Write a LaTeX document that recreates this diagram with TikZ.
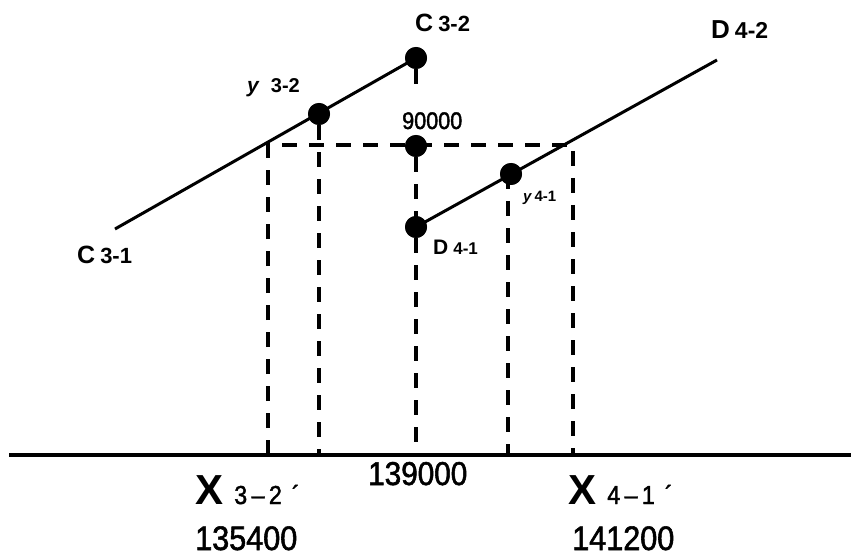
\documentclass[tikz,border=0pt]{standalone}
\usepackage{fontspec}
\setmainfont{Liberation Sans}
\newfontfamily\narrowfont[FakeStretch=0.9,FakeBold=1.6]{Liberation Sans}
\newcommand{\ptLbl}[4]{{\fontsize{#1}{#1}\selectfont #2}\hspace{5pt}{\fontsize{#3}{#3}\selectfont #4}}
\newcommand{\ptNum}[2]{{\narrowfont\fontsize{#1}{#1}\selectfont #2}}

\begin{document}
\begin{tikzpicture}[x=1pt,y=-1pt,
  dot/.style={circle, fill, inner sep=0pt, minimum size=22pt},
  seg/.style={line width=3pt},
  guide/.style={line width=3.5pt, dash pattern=on 15pt off 12pt},
  lbl/.style={anchor=base west, inner sep=0pt, font=\bfseries},
  num/.style={anchor=base west, inner sep=0pt}]
\useasboundingbox (0,0) rectangle (851,556);
% axis
\coordinate (axl) at (9,455);
\coordinate (axr) at (851,455);
\draw[line width=4pt] (axl) -- (axr);
% points
\coordinate (c31) at (115,229);
\node[dot] (c32) at (416,58) {};
\node[dot] (y32) at (319,114) {};
\node[dot] (p90) at (416,146) {};
\node[dot] (d41) at (416,227) {};
\node[dot] (y41) at (511,174) {};
\coordinate (d42) at (717,60);
\coordinate (c32f) at (416,86);
\coordinate (k32) at (268,145);
\coordinate (k41) at (573,145);
% guides
\draw[guide] (c32) -- (c32f);
\draw[guide] (p90) -- (p90 |- axl);
\draw[guide] (y32) -- (y32 |- axl);
\draw[guide] ([xshift=-3pt]y41.center) -- ([xshift=-3pt]y41.center |- axl);
\draw[guide] (k32 |- axl) -- (k32) -- (k41) -- (k41 |- axl);
% lines
\draw[seg] (c31) -- (c32.center);
\draw[seg] (d41.center) -- (d42);
\foreach \p in {c32,y32,p90,d41,y41} \node[dot] at (\p) {};
% labels
\node[lbl] (c32lbl) at (415,31.5) {\ptLbl{25}{C}{22}{3-2}};
\node[lbl] (d42lbl) at (711,39) {\ptLbl{26}{D}{23}{4-2}};
\node[lbl] (c31lbl) at (77,263) {\ptLbl{25}{C}{22}{3-1}};
\node[lbl] (y32lbl) at (247,93) {{\fontsize{21}{21}\selectfont\itshape y}\hspace{12pt}{\fontsize{20}{20}\selectfont 3-2}};
\node[lbl] (d41lbl) at (433,254) {\ptLbl{21}{D}{17}{4-1}};
\node[lbl] (y41lbl) at (523,202) {{\fontsize{15}{15}\selectfont\itshape y}\hspace{3pt}{\fontsize{15}{15}\selectfont 4-1}};
\node[num] (p90lbl) at (402,129) {\ptNum{24}{90000}};
\node[num] (axmid) at (368,485) {\ptNum{33}{139000}};
\node[num] (x32lbl) at (195,504) {{\bfseries\fontsize{42}{42}\selectfont X}\hspace{11pt}{\narrowfont\fontsize{26}{26}\selectfont 3\,–\,2\hspace{10pt}´}};
\node[num] (x32num) at (195,550) {\ptNum{34}{135400}};
\node[num] (x41lbl) at (568,504) {{\bfseries\fontsize{42}{42}\selectfont X}\hspace{11pt}{\narrowfont\fontsize{26}{26}\selectfont 4\,–\,1\hspace{10pt}´}};
\node[num] (x41num) at (572,550) {\ptNum{34}{141200}};
\end{tikzpicture}
\end{document}
